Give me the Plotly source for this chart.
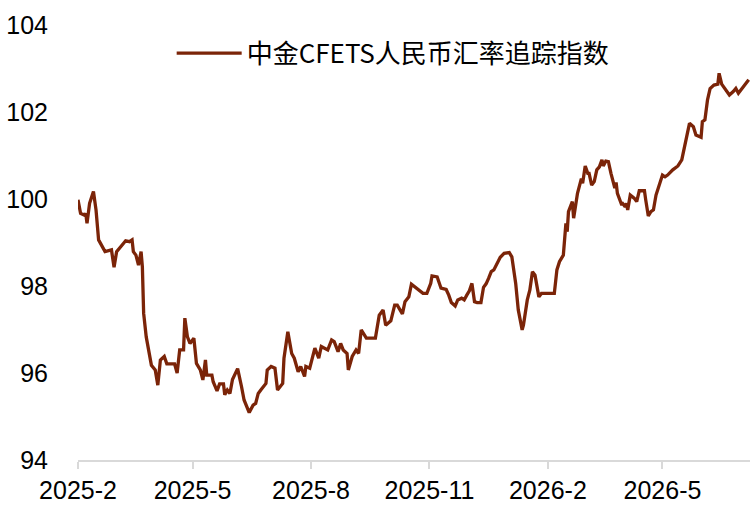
import plotly.graph_objects as go

dates = [
    "2025-02-01", "2025-02-03", "2025-02-06", "2025-02-07", "2025-02-08", "2025-02-10", "2025-02-13", "2025-02-15",
    "2025-02-17", "2025-02-19", "2025-02-22", "2025-02-27", "2025-03-01", "2025-03-03", "2025-03-08", "2025-03-10",
    "2025-03-13", "2025-03-15", "2025-03-16", "2025-03-18", "2025-03-20", "2025-03-22", "2025-03-23", "2025-03-24",
    "2025-03-26", "2025-03-28", "2025-03-30", "2025-04-02", "2025-04-04", "2025-04-06", "2025-04-09", "2025-04-11",
    "2025-04-17", "2025-04-19", "2025-04-21", "2025-04-24", "2025-04-25", "2025-04-27", "2025-04-29", "2025-05-02",
    "2025-05-04", "2025-05-07", "2025-05-09", "2025-05-11", "2025-05-12", "2025-05-16", "2025-05-17", "2025-05-20",
    "2025-05-22", "2025-05-25", "2025-05-26", "2025-05-28", "2025-05-30", "2025-06-01", "2025-06-05", "2025-06-08",
    "2025-06-10", "2025-06-14", "2025-06-17", "2025-06-19", "2025-06-21", "2025-06-23", "2025-06-27", "2025-06-28",
    "2025-07-01", "2025-07-04", "2025-07-06", "2025-07-10", "2025-07-11", "2025-07-14", "2025-07-17", "2025-07-19",
    "2025-07-22", "2025-07-24", "2025-07-27", "2025-07-28", "2025-07-31", "2025-08-04", "2025-08-07", "2025-08-09",
    "2025-08-14", "2025-08-17", "2025-08-19", "2025-08-22", "2025-08-24", "2025-08-26", "2025-08-29", "2025-08-30",
    "2025-09-02", "2025-09-05", "2025-09-07", "2025-09-09", "2025-09-13", "2025-09-20", "2025-09-23", "2025-09-26",
    "2025-09-28", "2025-10-02", "2025-10-05", "2025-10-07", "2025-10-11", "2025-10-13", "2025-10-16", "2025-10-18",
    "2025-10-21", "2025-10-24", "2025-10-27", "2025-10-30", "2025-11-02", "2025-11-03", "2025-11-07", "2025-11-10",
    "2025-11-14", "2025-11-16", "2025-11-18", "2025-11-21", "2025-11-23", "2025-11-26", "2025-11-28", "2025-11-30",
    "2025-12-02", "2025-12-04", "2025-12-06", "2025-12-08", "2025-12-11", "2025-12-13", "2025-12-15", "2025-12-17",
    "2025-12-19", "2025-12-21", "2025-12-24", "2025-12-26", "2025-12-29", "2026-01-02", "2026-01-04", "2026-01-07",
    "2026-01-09", "2026-01-12", "2026-01-13", "2026-01-16", "2026-01-18", "2026-01-20", "2026-01-22", "2026-01-24",
    "2026-01-25", "2026-01-27", "2026-02-06", "2026-02-08", "2026-02-10", "2026-02-13", "2026-02-15", "2026-02-16",
    "2026-02-17", "2026-02-20", "2026-02-21", "2026-02-24", "2026-02-27", "2026-02-28", "2026-03-02", "2026-03-04",
    "2026-03-05", "2026-03-07", "2026-03-09", "2026-03-11", "2026-03-13", "2026-03-15", "2026-03-16", "2026-03-18",
    "2026-03-20", "2026-03-22", "2026-03-24", "2026-03-25", "2026-03-26", "2026-03-27", "2026-03-30", "2026-03-31",
    "2026-04-02", "2026-04-03", "2026-04-04", "2026-04-06", "2026-04-09", "2026-04-11", "2026-04-13", "2026-04-17",
    "2026-04-18", "2026-04-20", "2026-04-22", "2026-04-24", "2026-04-26", "2026-04-29", "2026-05-01", "2026-05-03",
    "2026-05-05", "2026-05-09", "2026-05-13", "2026-05-16", "2026-05-19", "2026-05-22", "2026-05-25", "2026-05-27",
    "2026-05-31", "2026-06-01", "2026-06-03", "2026-06-05", "2026-06-07", "2026-06-10", "2026-06-13", "2026-06-14",
    "2026-06-16", "2026-06-19", "2026-06-22", "2026-06-25", "2026-06-27", "2026-06-29", "2026-07-02", "2026-07-05",
    "2026-07-07",
]

index_values = [
    99.98, 99.67, 99.63, 99.67, 99.44, 99.90, 100.17, 99.75,
    99.06, 98.94, 98.79, 98.83, 98.43, 98.79, 98.98, 99.04,
    99.02, 99.06, 98.79, 98.71, 98.48, 98.79, 98.44, 97.37,
    96.83, 96.45, 96.18, 96.07, 95.72, 96.30, 96.38, 96.21,
    96.21, 96.00, 96.53, 96.53, 97.26, 96.83, 96.68, 96.80,
    96.22, 96.07, 95.84, 96.30, 95.95, 95.95, 95.80, 95.59,
    95.75, 95.75, 95.50, 95.61, 95.53, 95.85, 96.10, 95.69,
    95.38, 95.09, 95.26, 95.30, 95.53, 95.61, 95.76, 96.07,
    96.15, 96.11, 95.61, 95.76, 96.34, 96.95, 96.45, 96.34,
    96.03, 96.15, 95.92, 96.15, 96.11, 96.57, 96.34, 96.61,
    96.53, 96.76, 96.72, 96.49, 96.68, 96.53, 96.45, 96.07,
    96.38, 96.53, 96.45, 96.99, 96.80, 96.80, 97.33, 97.45,
    97.10, 97.20, 97.56, 97.56, 97.36, 97.64, 97.75, 98.04,
    97.97, 97.92, 97.83, 97.83, 98.06, 98.23, 98.21, 97.95,
    97.92, 97.79, 97.62, 97.54, 97.68, 97.72, 97.68, 97.79,
    97.89, 98.06, 97.64, 97.62, 97.62, 97.97, 98.05, 98.18,
    98.33, 98.37, 98.56, 98.66, 98.75, 98.77, 98.67, 98.06,
    97.45, 96.99, 97.10, 97.68, 97.91, 98.33, 98.25, 97.91,
    97.75, 97.83, 97.83, 98.37, 98.56, 98.71, 99.44, 99.25,
    99.71, 99.94, 99.56, 100.13, 100.47, 100.36, 100.76, 100.59,
    100.59, 100.32, 100.40, 100.67, 100.74, 100.90, 100.76, 100.87,
    100.86, 100.59, 100.32, 100.25, 100.38, 100.13, 99.89, 99.90,
    99.82, 99.90, 99.75, 100.09, 100.02, 99.94, 100.19, 100.19,
    99.98, 99.61, 99.71, 99.75, 100.09, 100.36, 100.55, 100.51,
    100.55, 100.67, 100.76, 100.90, 101.36, 101.74, 101.66, 101.47,
    101.42, 101.78, 101.82, 102.28, 102.54, 102.62, 102.64, 102.89,
    102.64, 102.52, 102.39, 102.47, 102.54, 102.43, 102.54, 102.64,
    102.74,
]

series_name = "中金CFETS人民币汇率追踪指数"
x_tick_vals = ["2025-02-01", "2025-05-01", "2025-08-01", "2025-11-01", "2026-02-01", "2026-05-01"]
x_tick_text = ["2025-2", "2025-5", "2025-8", "2025-11", "2026-2", "2026-5"]
y_tick_vals = [94, 96, 98, 100, 102, 104]

line_color = "#7B2408"

fig = go.Figure()
fig.add_trace(go.Scatter(
    x=dates, y=index_values, mode="lines", name=series_name,
    line=dict(color=line_color, width=3.3),
    showlegend=True,
))

fig.update_layout(
    width=756, height=510,
    margin=dict(l=78, r=6, t=25, b=50),
    paper_bgcolor="white", plot_bgcolor="white",
    font=dict(family="Liberation Sans, Arial, sans-serif", size=25, color="black"),
    showlegend=True,
    legend=dict(
        x=0.469, y=0.935, xanchor="center", yanchor="middle",
        orientation="h", bgcolor="rgba(0,0,0,0)",
        font=dict(family="Noto Sans CJK SC", size=26, color="black"),
        itemwidth=65,
    ),
    xaxis=dict(
        type="date",
        range=["2025-02-01", "2026-07-08"],
        tickmode="array", tickvals=x_tick_vals, ticktext=x_tick_text,
        showgrid=False, zeroline=False,
        showline=True, linecolor="#d9d9d9", linewidth=2,
        ticks="outside", ticklen=7, tickwidth=2, tickcolor="#d9d9d9",
        tickfont=dict(size=25),
    ),
    yaxis=dict(
        range=[94, 104],
        tickmode="array", tickvals=y_tick_vals,
        showgrid=False, zeroline=False, showline=False,
        ticks="", ticklabelstandoff=29,
        tickfont=dict(size=25),
    ),
)

fig.write_html("out.html")
